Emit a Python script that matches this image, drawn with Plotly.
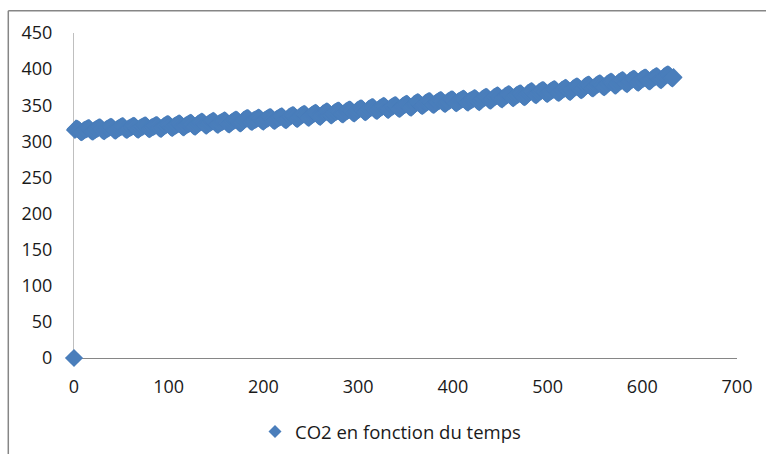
import plotly.graph_objects as go

# Monthly CO2 concentration (ppm); the first point of the
# sheet sits at (0, 0), then one value per month (index 1 = first month).
co2 = [
    0,
    315.7, 317.5, 317.5, 317.1, 315.9, 314.9, 313.2, 312.7, 313.3, 314.7,
    315.6, 316.4, 316.7, 317.7, 318.3, 318.2, 316.5, 314.8, 313.8, 313.3, 314.8, 315.6,
    316.5, 317.2, 318.0, 318.9, 319.5, 319.0, 317.4, 315.6, 314.5, 314.1, 315.6, 316.5,
    317.2, 317.9, 318.7, 319.6, 320.2, 319.7, 318.1, 316.3, 315.2, 314.8, 316.3, 317.2,
    318.1, 318.8, 319.6, 320.5, 321.1, 320.6, 319.0, 317.2, 316.1, 315.7, 317.2, 318.1,
    318.6, 319.3, 320.1, 321.0, 321.6, 321.1, 319.5, 317.7, 316.6, 316.2, 317.7, 318.6,
    319.2, 319.9, 320.7, 321.6, 322.2, 321.7, 320.1, 318.3, 317.2, 316.8, 318.3, 319.2,
    319.6, 320.3, 321.1, 322.0, 322.6, 322.1, 320.5, 318.7, 317.6, 317.2, 318.7, 319.6,
    321.0, 321.7, 322.5, 323.4, 324.0, 323.5, 321.9, 320.1, 319.0, 318.6, 320.1, 321.0,
    321.8, 322.5, 323.3, 324.2, 324.8, 324.3, 322.7, 320.9, 319.8, 319.4, 320.9, 321.8,
    322.6, 323.3, 324.1, 325.0, 325.6, 325.1, 323.5, 321.7, 320.6, 320.2, 321.7, 322.6,
    324.2, 324.9, 325.7, 326.6, 327.2, 326.7, 325.1, 323.3, 322.2, 321.8, 323.3, 324.2,
    325.3, 326.0, 326.8, 327.7, 328.3, 327.8, 326.2, 324.4, 323.3, 322.9, 324.4, 325.3,
    325.9, 326.6, 327.4, 328.3, 328.9, 328.4, 326.8, 325.0, 323.9, 323.5, 325.0, 325.9,
    327.1, 327.8, 328.6, 329.5, 330.1, 329.6, 328.0, 326.2, 325.1, 324.7, 326.2, 327.1,
    329.3, 330.0, 330.8, 331.7, 332.3, 331.8, 330.2, 328.4, 327.3, 326.9, 328.4, 329.3,
    329.8, 330.5, 331.3, 332.2, 332.8, 332.3, 330.7, 328.9, 327.8, 327.4, 328.9, 329.8,
    330.7, 331.4, 332.2, 333.1, 333.7, 333.2, 331.6, 329.8, 328.7, 328.3, 329.8, 330.7,
    331.6, 332.3, 333.1, 334.0, 334.6, 334.1, 332.5, 330.7, 329.6, 329.2, 330.7, 331.6,
    333.4, 334.1, 334.9, 335.8, 336.4, 335.9, 334.3, 332.5, 331.4, 331.0, 332.5, 333.4,
    335.0, 335.7, 336.5, 337.4, 338.0, 337.5, 335.9, 334.1, 333.0, 332.6, 334.1, 335.0,
    336.4, 337.1, 337.9, 338.8, 339.4, 338.9, 337.3, 335.5, 334.4, 334.0, 335.5, 336.4,
    338.4, 339.1, 339.9, 340.8, 341.4, 340.9, 339.3, 337.5, 336.4, 336.0, 337.5, 338.4,
    339.7, 340.4, 341.2, 342.1, 342.7, 342.2, 340.6, 338.8, 337.7, 337.3, 338.8, 339.7,
    341.1, 341.8, 342.6, 343.5, 344.1, 343.6, 342.0, 340.2, 339.1, 338.7, 340.2, 341.1,
    342.8, 343.5, 344.3, 345.2, 345.8, 345.3, 343.7, 341.9, 340.8, 340.4, 341.9, 342.8,
    344.5, 345.2, 346.0, 346.9, 347.5, 347.0, 345.4, 343.6, 342.5, 342.1, 343.6, 344.5,
    346.0, 346.7, 347.5, 348.4, 349.0, 348.5, 346.9, 345.1, 344.0, 343.6, 345.1, 346.0,
    347.2, 347.9, 348.7, 349.6, 350.2, 349.7, 348.1, 346.3, 345.2, 344.8, 346.3, 347.2,
    348.9, 349.6, 350.4, 351.3, 351.9, 351.4, 349.8, 348.0, 346.9, 346.5, 348.0, 348.9,
    351.3, 352.0, 352.8, 353.7, 354.3, 353.8, 352.2, 350.4, 349.3, 348.9, 350.4, 351.3,
    352.8, 353.5, 354.3, 355.2, 355.8, 355.3, 353.7, 351.9, 350.8, 350.4, 351.9, 352.8,
    354.1, 354.8, 355.6, 356.5, 357.1, 356.6, 355.0, 353.2, 352.1, 351.7, 353.2, 354.1,
    355.3, 356.0, 356.8, 357.7, 358.3, 357.8, 356.2, 354.4, 353.3, 352.9, 354.4, 355.3,
    356.1, 356.8, 357.6, 358.5, 359.1, 358.6, 357.0, 355.2, 354.1, 353.7, 355.2, 356.1,
    356.8, 357.5, 358.3, 359.2, 359.8, 359.3, 357.7, 355.9, 354.8, 354.4, 355.9, 356.8,
    358.6, 359.3, 360.1, 361.0, 361.6, 361.1, 359.5, 357.7, 356.6, 356.2, 357.7, 358.6,
    360.6, 361.3, 362.1, 363.0, 363.6, 363.1, 361.5, 359.7, 358.6, 358.2, 359.7, 360.6,
    362.3, 363.0, 363.8, 364.7, 365.3, 364.8, 363.2, 361.4, 360.3, 359.9, 361.4, 362.3,
    363.5, 364.2, 365.0, 365.9, 366.5, 366.0, 364.4, 362.6, 361.5, 361.1, 362.6, 363.5,
    366.4, 367.1, 367.9, 368.8, 369.4, 368.9, 367.3, 365.5, 364.4, 364.0, 365.5, 366.4,
    368.1, 368.8, 369.6, 370.5, 371.1, 370.6, 369.0, 367.2, 366.1, 365.7, 367.2, 368.1,
    369.3, 370.0, 370.8, 371.7, 372.3, 371.8, 370.2, 368.4, 367.3, 366.9, 368.4, 369.3,
    370.9, 371.6, 372.4, 373.3, 373.9, 373.4, 371.8, 370.0, 368.9, 368.5, 370.0, 370.9,
    373.1, 373.8, 374.6, 375.5, 376.1, 375.6, 374.0, 372.2, 371.1, 370.7, 372.2, 373.1,
    375.6, 376.3, 377.1, 378.0, 378.6, 378.1, 376.5, 374.7, 373.6, 373.2, 374.7, 375.6,
    377.3, 378.0, 378.8, 379.7, 380.3, 379.8, 378.2, 376.4, 375.3, 374.9, 376.4, 377.3,
    379.6, 380.3, 381.1, 382.0, 382.6, 382.1, 380.5, 378.7, 377.6, 377.2, 378.7, 379.6,
    381.7, 382.4, 383.2, 384.1, 384.7, 384.2, 382.6, 380.8, 379.7, 379.3, 380.8, 381.7,
    383.6, 384.3, 385.1, 386.0, 386.6, 386.1, 384.5, 382.7, 381.6, 381.2, 382.7, 383.6,
    385.4, 386.1, 386.9, 387.8, 388.4, 387.9, 386.3, 384.5, 383.4, 383.0, 384.5, 385.4,
    387.2, 387.9, 388.7, 389.6, 390.2, 389.7, 388.1, 386.3, 385.2, 384.8, 386.3, 387.2,
    389.7, 390.4, 391.2, 392.1, 392.7, 392.2, 390.6, 388.8, 387.7, 387.3, 388.8,
]
# time index (months) matching each value
mois = list(range(len(co2)))

serie_nom = "CO2 en fonction du temps"
x_ticks = [0, 100, 200, 300, 400, 500, 600, 700]
y_ticks = [0, 50, 100, 150, 200, 250, 300, 350, 400, 450]

BLUE = "#4A7EBB"
FONT = "Open Sans"
TXT = "#1a1a1a"

fig = go.Figure()
fig.add_trace(go.Scatter(
    x=mois, y=co2, mode="markers", name=serie_nom, legendgroup="s",
    showlegend=False,
    marker=dict(symbol="diamond", size=14, color=BLUE, line=dict(width=0)),
    cliponaxis=False,
))
# legend entry (smaller symbol, as in the reference legend)
fig.add_trace(go.Scatter(
    x=[None], y=[None], mode="markers", name=serie_nom, legendgroup="s",
    marker=dict(symbol="diamond", size=10, color=BLUE, line=dict(width=0)),
))

fig.update_layout(
    width=766, height=454,
    margin=dict(l=74, r=29, t=33, b=96, autoexpand=False),
    paper_bgcolor="white", plot_bgcolor="white",
    font=dict(family=FONT, size=18, color=TXT),
    showlegend=True,
    legend=dict(orientation="h", x=0.273, xanchor="left",
                yref="container", y=0.0485, yanchor="middle",
                font=dict(family=FONT, size=18.5, color=TXT), bgcolor="rgba(0,0,0,0)"),
    xaxis=dict(range=[0, 700], tickvals=x_ticks, ticktext=[str(v) for v in x_ticks],
               showgrid=False, zeroline=False, showline=True, linecolor="#868686",
               linewidth=1, ticks="", ticklabelstandoff=12, layer="below traces",
               automargin=False, fixedrange=True),
    yaxis=dict(range=[0, 450], tickvals=y_ticks, ticktext=[str(v) for v in y_ticks],
               showgrid=False, zeroline=False, showline=True, linecolor="#BFBFBF",
               linewidth=1, ticks="", ticklabelstandoff=17, layer="below traces",
               automargin=False, fixedrange=True),
    shapes=[
        dict(type="line", xref="paper", yref="paper", x0=-0.0991, x1=-0.0991,
             y0=-0.40, y1=1.0683, line=dict(color="#868686", width=1.5)),
        dict(type="line", xref="paper", yref="paper", x0=-0.0991, x1=1.10,
             y0=1.0683, y1=1.0683, line=dict(color="#868686", width=1.5)),
    ],
)

fig.write_html("out.html", config={"displayModeBar": False},
               post_script="document.body.style.margin='0';document.body.style.overflow='hidden';")
